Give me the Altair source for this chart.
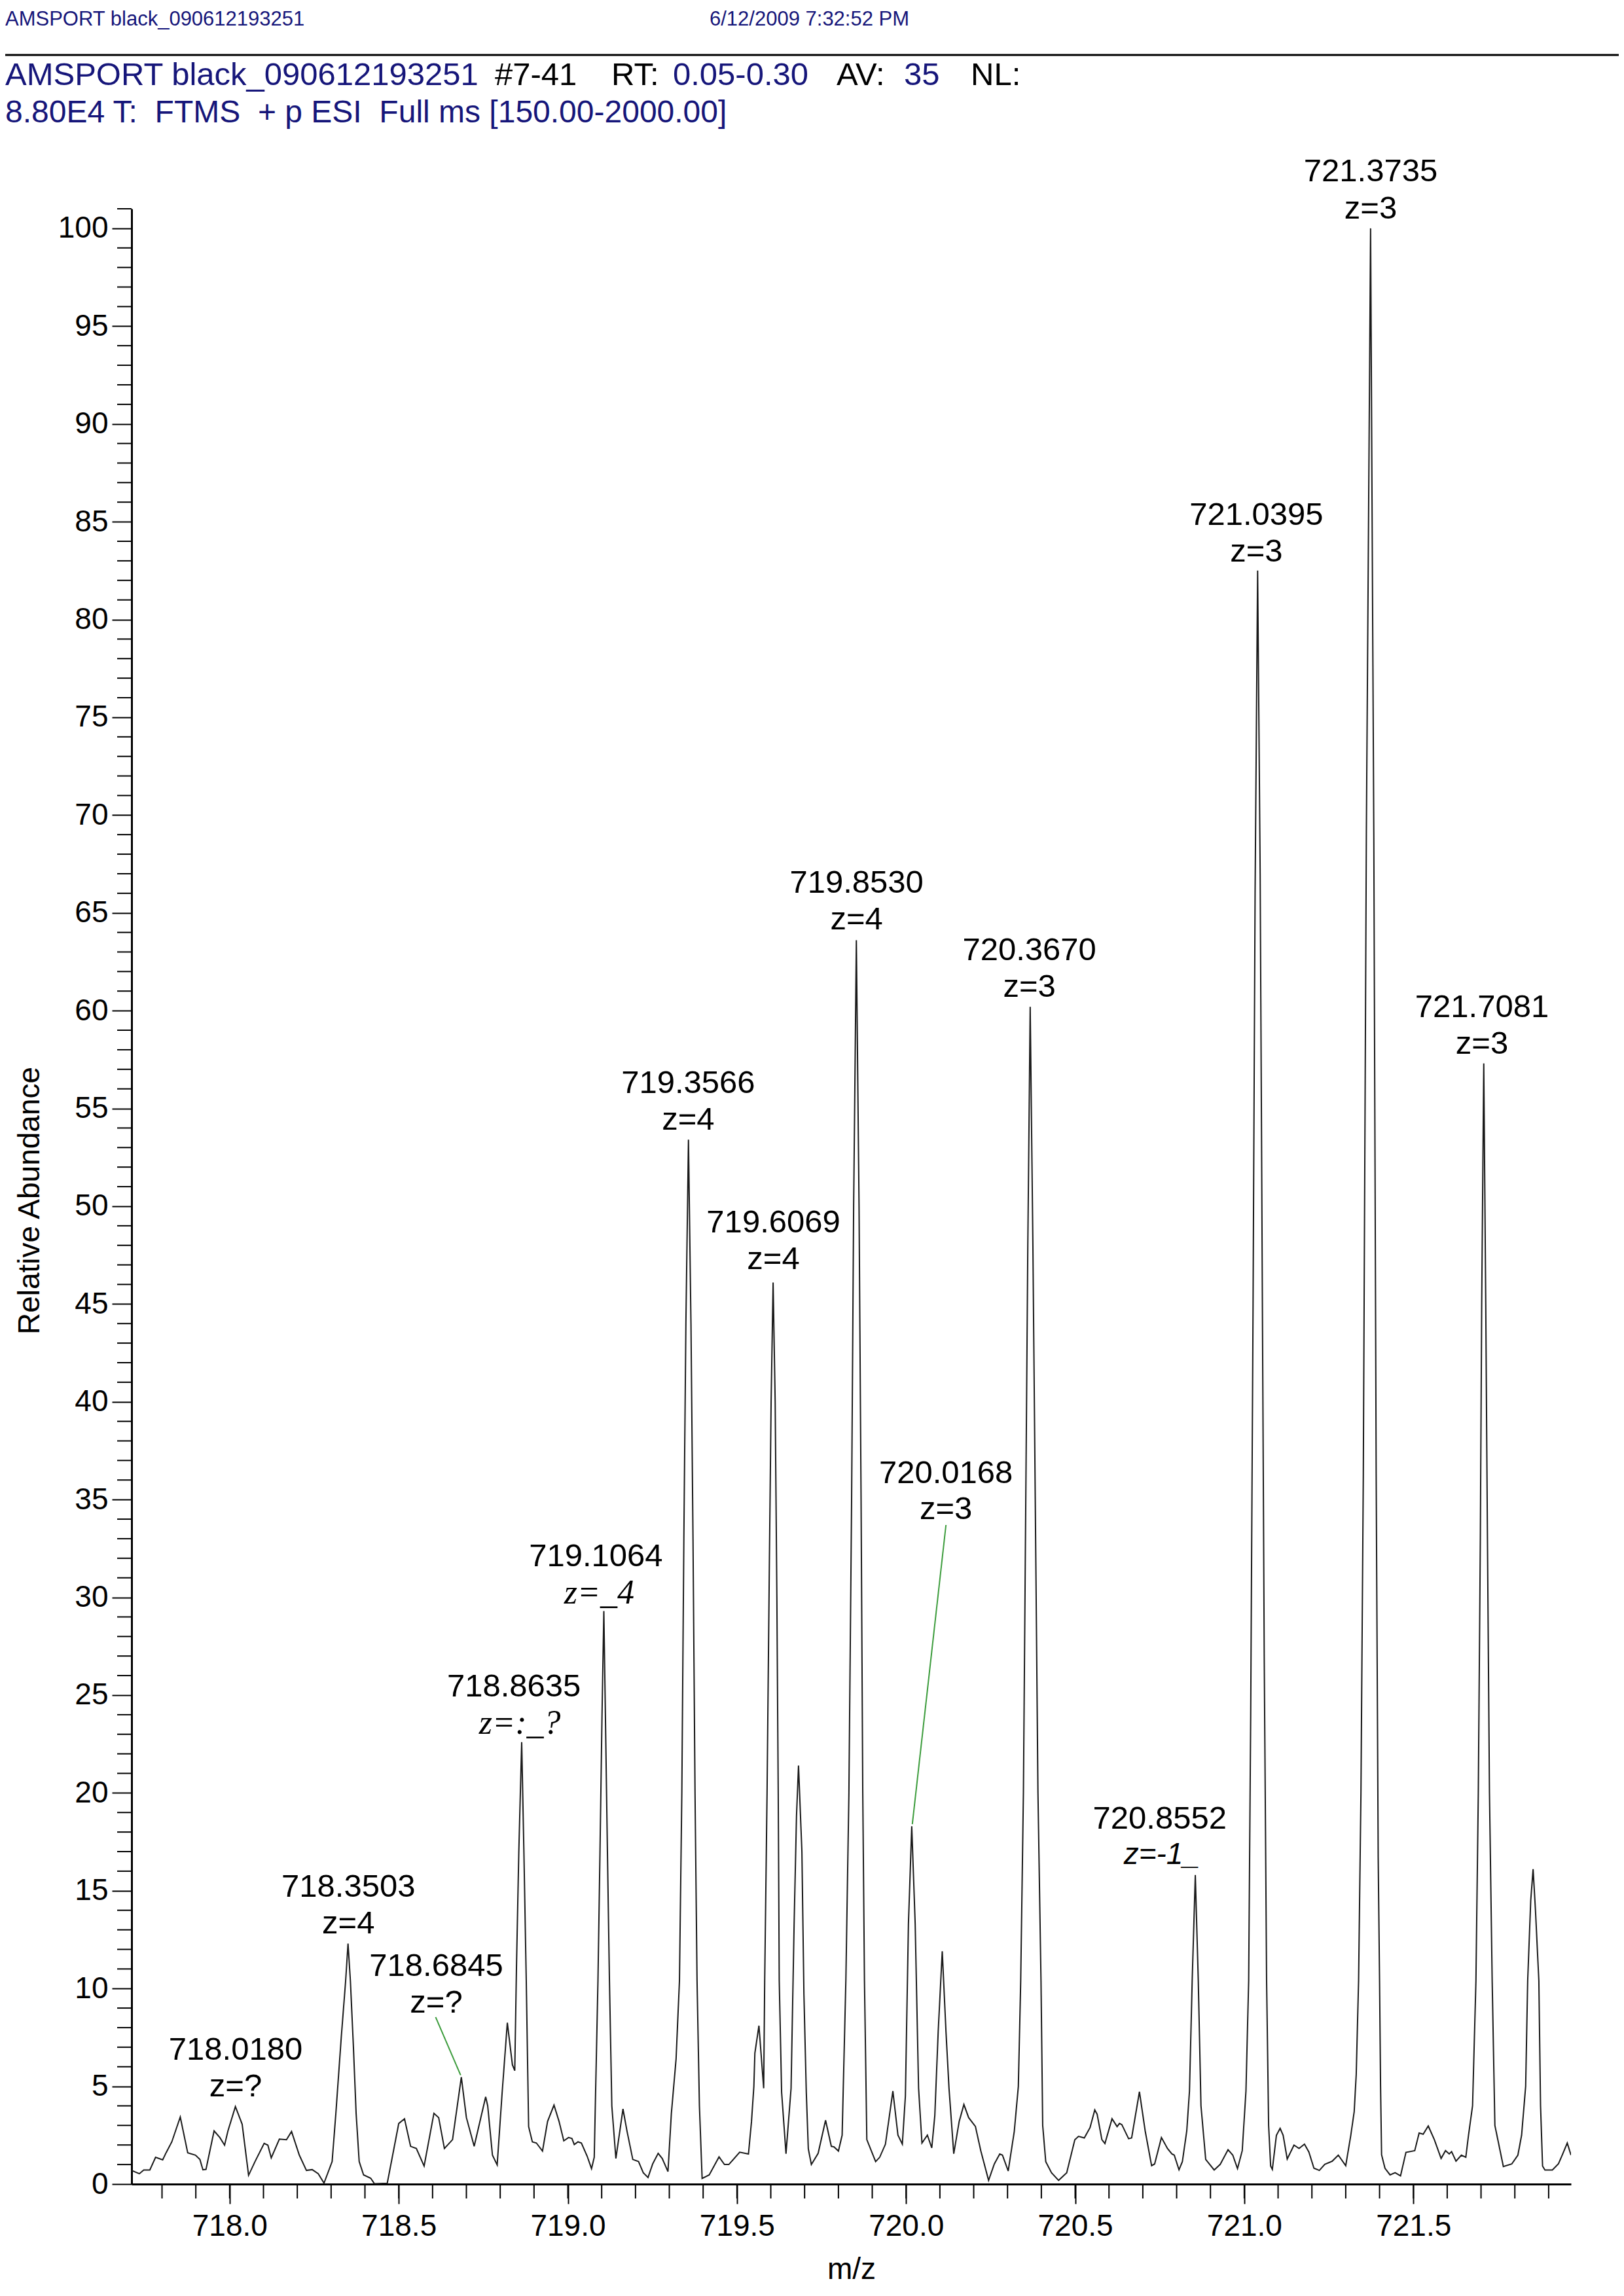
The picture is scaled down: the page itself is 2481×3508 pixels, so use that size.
import altair as alt
import pandas as pd

# ---------------- spectrum profile (m/z, relative abundance)
MZ = [
    717.710, 717.733, 717.746, 717.764, 717.781, 717.802, 717.812, 717.829, 717.854, 717.876,
    717.899, 717.912, 717.921, 717.930, 717.954, 717.971, 717.985, 717.995, 718.017, 718.037,
    718.056, 718.075, 718.102, 718.113, 718.123, 718.147, 718.168, 718.183, 718.206, 718.227,
    718.244, 718.262, 718.279, 718.303, 718.314, 718.330, 718.343, 718.350, 718.357, 718.366,
    718.374, 718.383, 718.396, 718.417, 718.428, 718.466, 718.500, 718.517, 718.535, 718.552,
    718.575, 718.604, 718.618, 718.635, 718.659, 718.685, 718.700, 718.723, 718.757, 718.763,
    718.777, 718.791, 718.805, 718.821, 718.836, 718.843, 718.848, 718.855, 718.8635, 718.870,
    718.877, 718.884, 718.895, 718.907, 718.925, 718.940, 718.959, 718.974, 718.988, 719.002,
    719.012, 719.019, 719.030, 719.040, 719.057, 719.070, 719.078, 719.089, 719.095, 719.101,
    719.1064, 719.111, 719.117, 719.123, 719.130, 719.142, 719.163, 719.175, 719.192, 719.209,
    719.223, 719.237, 719.251, 719.267, 719.279, 719.296, 719.306, 719.320, 719.330, 719.337,
    719.343, 719.349, 719.3566, 719.364, 719.370, 719.376, 719.382, 719.389, 719.397, 719.418,
    719.447, 719.463, 719.476, 719.508, 719.534, 719.543, 719.550, 719.553, 719.565, 719.579,
    719.582, 719.589, 719.596, 719.601, 719.6069, 719.613, 719.618, 719.622, 719.625, 719.632,
    719.645, 719.660, 719.669, 719.676, 719.682, 719.692, 719.698, 719.705, 719.711, 719.720,
    719.740, 719.762, 719.779, 719.787, 719.800, 719.811, 719.822, 719.831, 719.839, 719.845,
    719.853, 719.861, 719.867, 719.872, 719.877, 719.884, 719.910, 719.922, 719.939, 719.961,
    719.976, 719.989, 719.998, 720.007, 720.0168, 720.027, 720.037, 720.047, 720.063, 720.076,
    720.085, 720.095, 720.107, 720.118, 720.127, 720.141, 720.157, 720.171, 720.185, 720.205,
    720.221, 720.244, 720.261, 720.277, 720.285, 720.302, 720.320, 720.332, 720.339, 720.347,
    720.354, 720.360, 720.367, 720.375, 720.382, 720.390, 720.399, 720.404, 720.413, 720.430,
    720.451, 720.475, 720.499, 720.510, 720.527, 720.544, 720.558, 720.565, 720.579, 720.588,
    720.609, 720.624, 720.631, 720.638, 720.658, 720.667, 720.690, 720.707, 720.726, 720.735,
    720.755, 720.773, 720.786, 720.793, 720.807, 720.817, 720.830, 720.838, 720.846, 720.8552,
    720.864, 720.872, 720.886, 720.911, 720.929, 720.952, 720.966, 720.980, 720.994, 721.005,
    721.013, 721.019, 721.026, 721.032, 721.0395, 721.047, 721.053, 721.059, 721.066, 721.072,
    721.078, 721.083, 721.095, 721.106, 721.115, 721.127, 721.147, 721.162, 721.178, 721.191,
    721.206, 721.222, 721.238, 721.260, 721.278, 721.300, 721.315, 721.325, 721.331, 721.338,
    721.345, 721.352, 721.361, 721.3735, 721.383, 721.390, 721.396, 721.400, 721.403, 721.406,
    721.416, 721.431, 721.446, 721.462, 721.478, 721.504, 721.517, 721.529, 721.544, 721.562,
    721.582, 721.595, 721.606, 721.613, 721.626, 721.642, 721.655, 721.663, 721.675, 721.685,
    721.692, 721.698, 721.702, 721.7081, 721.714, 721.719, 721.725, 721.733, 721.741, 721.766,
    721.791, 721.809, 721.820, 721.832, 721.838, 721.847, 721.854, 721.861, 721.871, 721.876,
    721.882, 721.889, 721.911, 721.929, 721.940, 721.955, 721.966,
]
ABUND = [
    0.70, 0.53, 0.72, 0.72, 1.37, 1.24, 1.60, 2.16, 3.43, 1.60,
    1.48, 1.26, 0.73, 0.75, 2.72, 2.38, 1.99, 2.72, 3.96, 3.06,
    0.45, 1.15, 2.08, 1.99, 1.34, 2.30, 2.27, 2.69, 1.48, 0.70,
    0.74, 0.53, 0.05, 1.15, 3.60, 7.50, 10.4, 12.3, 10.4, 7.00,
    3.60, 1.15, 0.47, 0.30, 0.02, 0.04, 3.10, 3.34, 1.93, 1.82,
    0.92, 3.62, 3.40, 1.82, 2.27, 5.47, 3.40, 1.93, 4.46, 4.00,
    1.48, 0.98, 4.50, 8.25, 6.10, 5.80, 11.0, 17.0, 22.6, 17.0,
    10.4, 2.94, 2.16, 2.10, 1.69, 3.20, 4.04, 3.20, 2.21, 2.38,
    2.33, 2.02, 2.16, 2.10, 1.43, 0.79, 1.37, 10.4, 17.0, 24.0,
    29.3, 24.0, 17.0, 10.4, 4.00, 1.31, 3.84, 2.70, 1.26, 1.15,
    0.58, 0.34, 1.04, 1.57, 1.31, 0.64, 3.60, 6.40, 10.4, 20.0,
    33.0, 44.0, 53.4, 44.0, 33.0, 20.0, 10.4, 4.00, 0.29, 0.47,
    1.39, 1.00, 1.00, 1.63, 1.54, 3.20, 5.00, 6.70, 8.10, 4.90,
    10.4, 20.0, 32.0, 40.0, 46.1, 40.0, 30.0, 20.0, 10.4, 4.70,
    1.55, 4.90, 13.3, 18.8, 21.4, 17.0, 9.70, 4.70, 1.80, 1.00,
    1.57, 3.26, 1.93, 1.90, 1.69, 2.50, 10.4, 20.0, 35.0, 50.0,
    63.6, 50.0, 35.0, 20.0, 10.4, 2.27, 1.15, 1.37, 2.04, 4.76,
    2.50, 2.04, 4.50, 13.3, 18.3, 13.3, 4.90, 2.10, 2.50, 1.85,
    3.50, 7.80, 11.9, 7.80, 4.90, 1.55, 3.20, 4.07, 3.40, 2.95,
    1.70, 0.19, 1.03, 1.54, 1.48, 0.67, 2.70, 5.00, 10.4, 20.0,
    35.0, 48.0, 60.2, 48.0, 35.0, 20.0, 10.4, 3.00, 1.15, 0.58,
    0.19, 0.58, 2.27, 2.44, 2.36, 2.89, 3.79, 3.57, 2.27, 2.07,
    3.34, 2.94, 3.10, 3.04, 2.32, 2.36, 4.72, 2.72, 0.94, 1.03,
    2.38, 1.82, 1.54, 1.48, 0.73, 1.15, 2.72, 4.76, 10.4, 15.8,
    10.4, 4.00, 1.26, 0.72, 1.01, 1.76, 1.48, 0.79, 1.71, 4.76,
    10.4, 24.0, 45.0, 66.0, 82.5, 67.0, 47.0, 27.0, 10.4, 3.00,
    0.92, 0.75, 2.49, 2.85, 2.49, 1.28, 1.99, 1.82, 2.04, 1.64,
    0.81, 0.70, 1.01, 1.17, 1.48, 0.94, 2.50, 3.70, 5.60, 10.4,
    20.0, 36.3, 69.0, 100.0, 69.0, 36.3, 16.7, 10.4, 5.00, 1.50,
    0.81, 0.47, 0.58, 0.42, 1.62, 1.71, 2.61, 2.55, 2.97, 2.27,
    1.31, 1.71, 1.54, 1.66, 1.17, 1.48, 1.37, 2.50, 4.00, 10.4,
    20.0, 33.0, 45.0, 57.3, 45.0, 33.0, 20.0, 10.4, 3.00, 0.90,
    1.03, 1.48, 2.50, 5.00, 10.4, 14.5, 16.1, 14.0, 10.4, 4.00,
    0.92, 0.72, 0.72, 1.04, 1.48, 2.10, 1.48,
]

# ---------------- peak annotations
LABEL_MZ = [721.3737, 721.0359, 721.7027, 719.8537, 720.3647, 719.3558, 719.6078,
            720.1179, 719.0830, 718.8405, 718.3511, 718.6109, 718.0178, 720.7501]
LABEL_Y1 = [102.9, 85.33, 60.17, 66.54, 63.09, 56.28, 49.17,
            36.36, 32.10, 25.43, 15.18, 11.13, 6.87, 18.69]
LABEL_TEXT = ["721.3735", "721.0395", "721.7081", "719.8530", "720.3670", "719.3566", "719.6069",
              "720.0168", "719.1064", "718.8635", "718.3503", "718.6845", "718.0180", "720.8552"]

Z_MZ = [721.3737, 721.0359, 721.7027, 719.8537, 720.3647, 719.3558, 719.6078,
        720.1179, 718.3511, 718.6109, 718.0178]
Z_Y = [101.0, 83.46, 58.30, 64.67, 61.22, 54.41, 47.30, 34.49, 13.31, 9.26, 5.00]
Z_TEXT = ["z=3", "z=3", "z=3", "z=4", "z=3", "z=4", "z=4", "z=3", "z=4", "z=?", "z=?"]

ZI_MZ = [719.0927, 718.8580]
ZI_Y = [30.22, 23.56]
ZI_TEXT = ["z=_4", "z=:_?"]

ZS_MZ = [720.7560]
ZS_Y = [16.82]
ZS_TEXT = ["z=-1_"]

LEADER_MZ1 = [718.609, 720.118]
LEADER_Y1 = [8.54, 33.7]
LEADER_MZ2 = [718.683, 720.0185]
LEADER_Y2 = [5.57, 18.4]

X_MAJOR = [718.0, 718.5, 719.0, 719.5, 720.0, 720.5, 721.0, 721.5]
X_MINOR = [round(717.8 + 0.1 * i, 1) for i in range(42)]
Y_MAJOR = list(range(0, 101, 5))
Y_MINOR = [v for v in range(0, 102) if v % 5 != 0]

FONT = "Liberation Sans"
NAVY = "#16167a"
W, H = 2199, 3018

xscale = alt.Scale(domain=[717.71, 721.966], nice=False, zero=False)
yscale = alt.Scale(domain=[0, 101], nice=False, zero=True)

X_AXIS = alt.Axis(
    values=X_MAJOR, format=".1f", title="m/z", grid=False,
    tickSize=30, tickWidth=2, tickColor="black", domainColor="black", domainWidth=3,
    labelFont=FONT, labelFontSize=46, labelColor="black", labelPadding=12,
    titleFont=FONT, titleFontSize=46, titleFontWeight="normal", titleColor="black",
    titleY=130, titleBaseline="middle")
Y_AXIS = alt.Axis(
    values=Y_MAJOR, title="Relative Abundance", grid=False,
    tickSize=30, tickWidth=2, tickColor="black", domainColor="black", domainWidth=3,
    labelFont=FONT, labelFontSize=46, labelColor="black", labelPadding=6,
    titleFont=FONT, titleFontSize=46, titleFontWeight="normal", titleColor="black",
    titleX=-156, titleY=1515, titleBaseline="middle", titleAlign="center")

spec = pd.DataFrame({"mz": MZ, "ab": ABUND})

line = alt.Chart(spec).mark_line(color="#1a1a1a", strokeWidth=2, clip=True).encode(
    x=alt.X("mz:Q", scale=xscale, axis=X_AXIS),
    y=alt.Y("ab:Q", scale=yscale, axis=Y_AXIS),
)

xminor = alt.Chart(pd.DataFrame({"mz": X_MINOR})).mark_rule(color="black", strokeWidth=2).encode(
    x=alt.X("mz:Q", scale=xscale, axis=X_AXIS), y=alt.value(H), y2=alt.value(H + 22))
yminor = alt.Chart(pd.DataFrame({"ab": Y_MINOR})).mark_rule(color="black", strokeWidth=2).encode(
    y=alt.Y("ab:Q", scale=yscale, axis=Y_AXIS), x=alt.value(-22), x2=alt.value(0))

leaders = alt.Chart(pd.DataFrame({"mz": LEADER_MZ1, "ab": LEADER_Y1, "mz2": LEADER_MZ2, "ab2": LEADER_Y2})
                    ).mark_rule(color="#3c9c3c", strokeWidth=2).encode(
    x=alt.X("mz:Q", scale=xscale, axis=X_AXIS), y=alt.Y("ab:Q", scale=yscale, axis=Y_AXIS),
    x2="mz2:Q", y2="ab2:Q")

def labels(mzs, ys, texts, **kw):
    return alt.Chart(pd.DataFrame({"mz": mzs, "ab": ys, "t": texts})).mark_text(
        align="center", baseline="middle", color="black", **kw).encode(
        x=alt.X("mz:Q", scale=xscale, axis=X_AXIS), y=alt.Y("ab:Q", scale=yscale, axis=Y_AXIS),
        text="t:N")

lab1 = labels(LABEL_MZ, LABEL_Y1, LABEL_TEXT, font=FONT, fontSize=49)
lab2 = labels(Z_MZ, Z_Y, Z_TEXT, font=FONT, fontSize=49)
lab3 = labels(ZI_MZ, ZI_Y, ZI_TEXT, font="Liberation Serif", fontSize=52, fontStyle="italic")
lab4 = labels(ZS_MZ, ZS_Y, ZS_TEXT, font=FONT, fontSize=46, fontStyle="italic")

one = pd.DataFrame({"k": [0]})

def htext(t, x, y, size, color):
    return alt.Chart(one).mark_text(text=t, align="left", baseline="alphabetic", font=FONT,
                                    fontSize=size, color=color).encode(x=alt.value(x), y=alt.value(y))

NB = "\u00a0"
header = [
    htext("AMSPORT black_090612193251", -193, -280, 31, NAVY),
    htext("6/12/2009 7:32:52 PM", 883, -280, 31, NAVY),
    htext("AMSPORT black_090612193251", -193, -189, 49, NAVY),
    htext("#7-41", 555, -189, 49, "black"),
    htext("RT:", 733, -189, 49, "black"),
    htext("0.05-0.30", 827, -189, 49, NAVY),
    htext("AV:", 1077, -189, 49, "black"),
    htext("35", 1180, -189, 49, NAVY),
    htext("NL:", 1282, -189, 49, "black"),
    htext("8.80E4 T:" + NB + NB + "FTMS" + NB + NB + "+ p ESI" + NB + NB + "Full ms [150.00-2000.00]",
          -193, -132, 48, NAVY),
]
hrule = alt.Chart(one).mark_rule(color="black", strokeWidth=3).encode(
    x=alt.value(-193), x2=alt.value(2272), y=alt.value(-235))

chart = alt.layer(line, xminor, yminor, leaders, lab1, lab2, lab3, lab4, hrule, *header).properties(
    width=W, height=H,
    autosize=alt.AutoSizeParams(type="none"),
    padding={"left": 193, "top": 311, "right": 73, "bottom": 168},
    background="white",
).configure_view(strokeWidth=0)

chart.save("out.html", embed_options={"renderer": "svg", "actions": False})
